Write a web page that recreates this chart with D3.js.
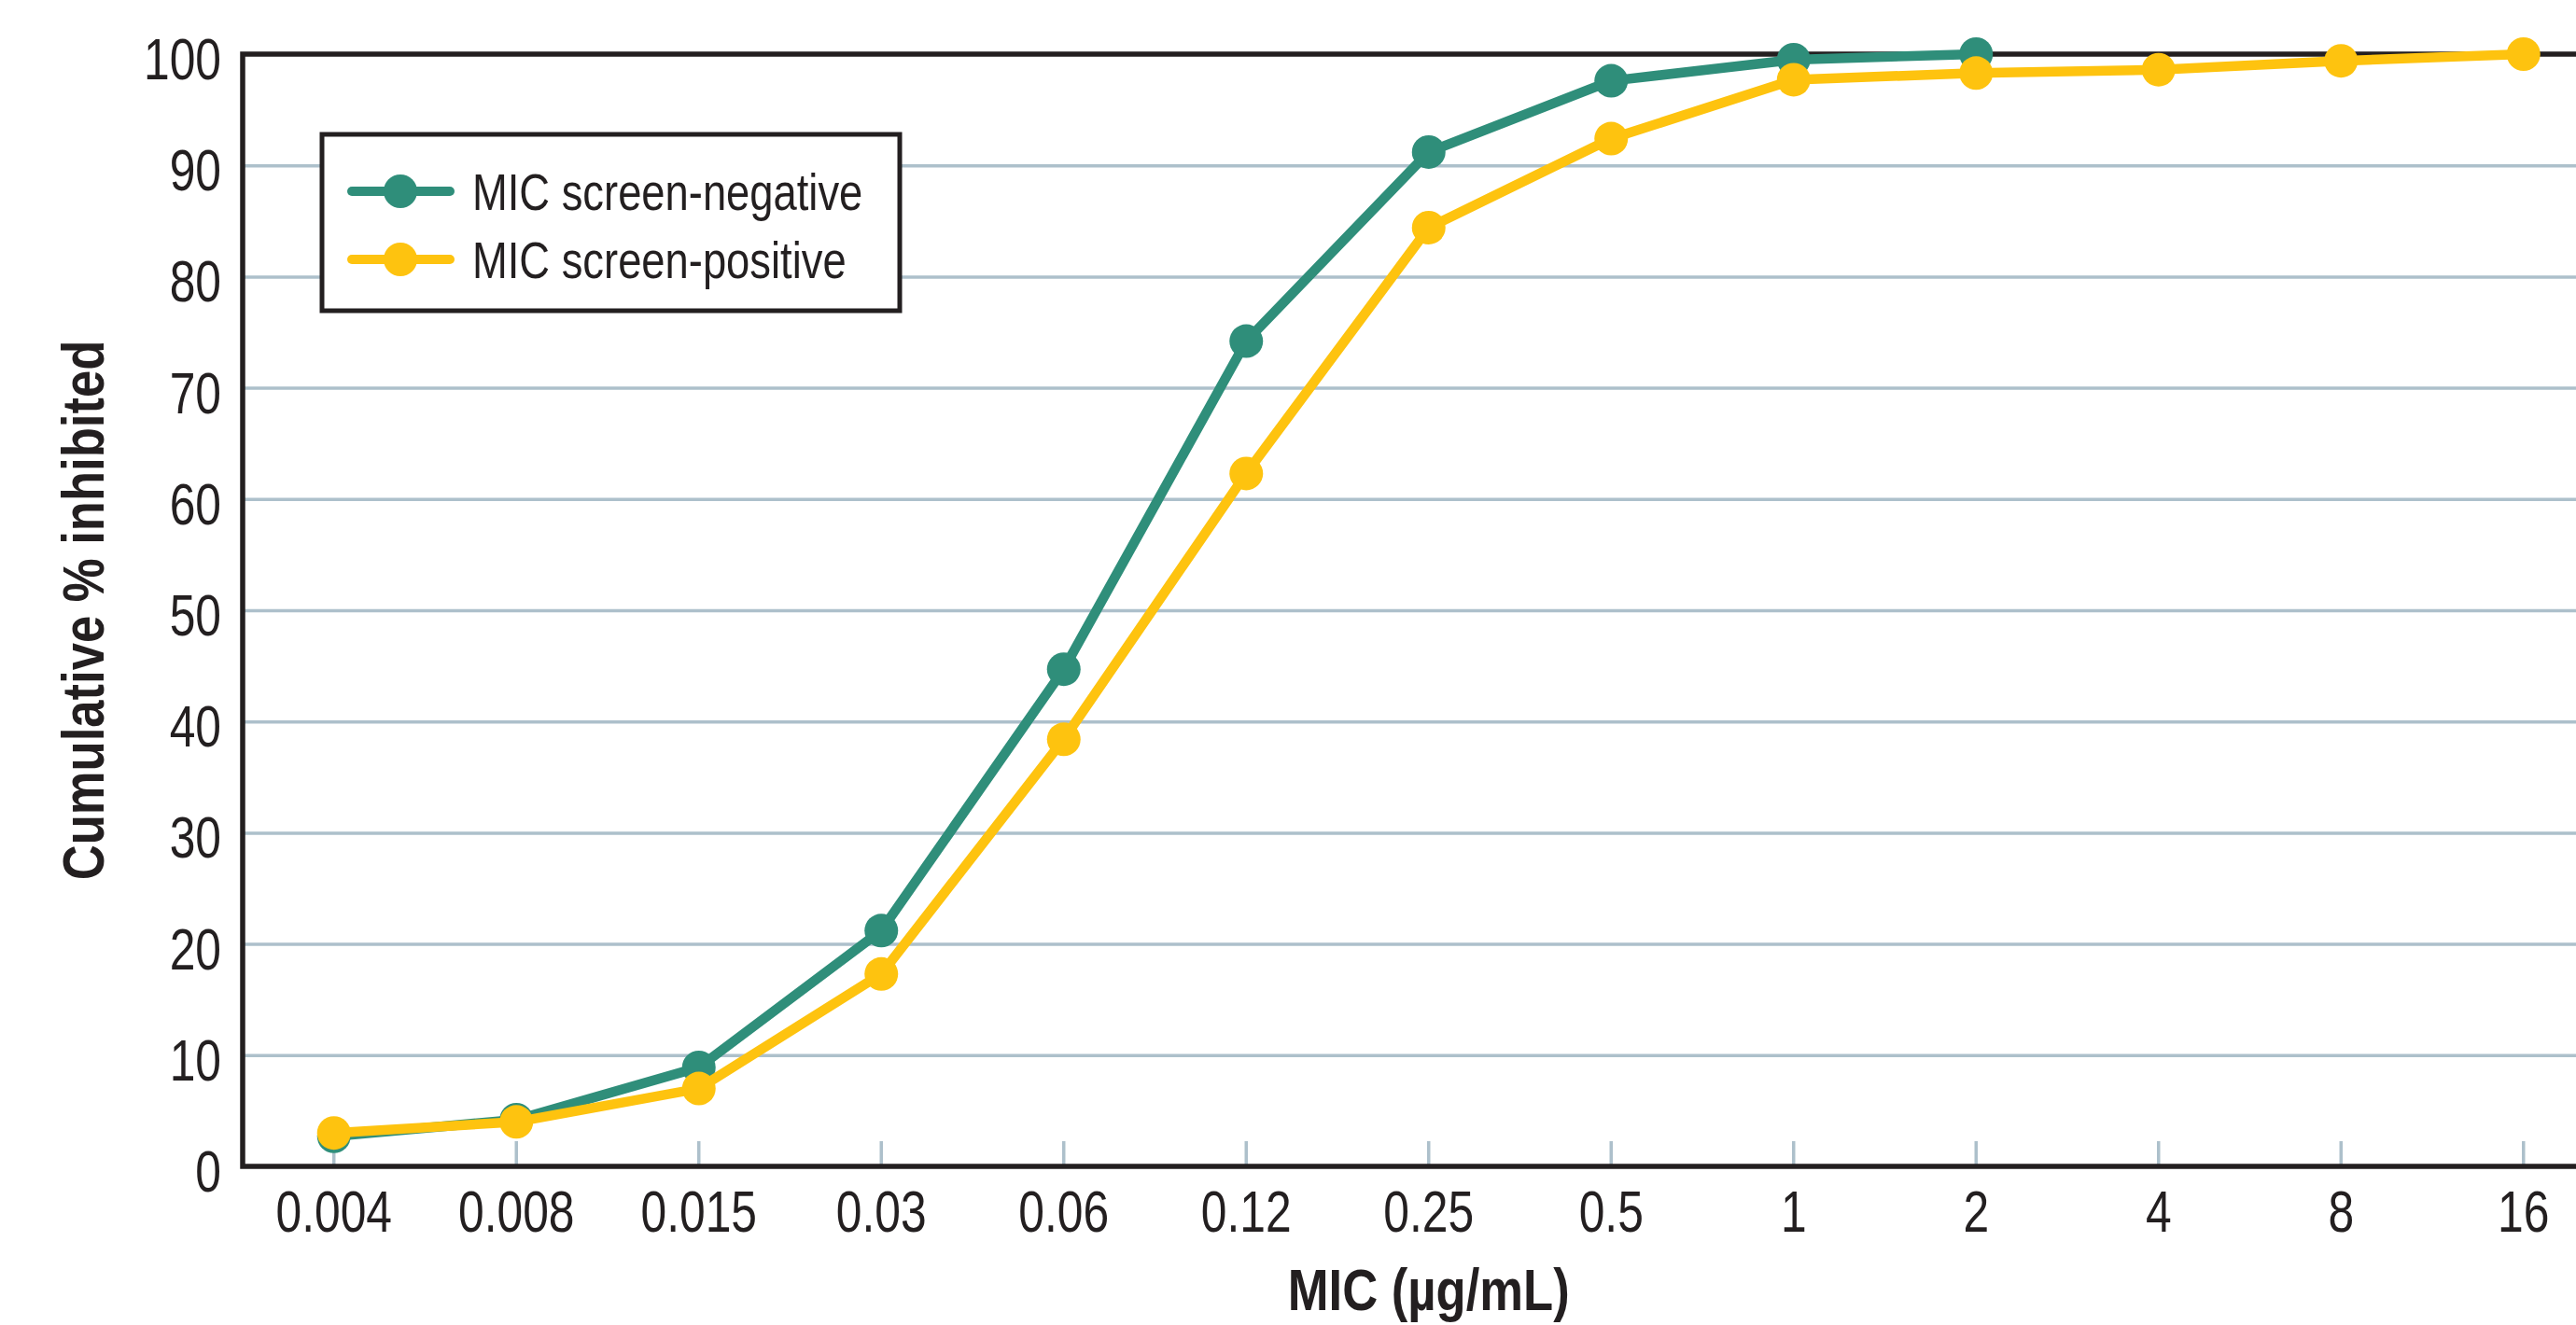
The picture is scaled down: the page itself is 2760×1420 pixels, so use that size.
<!DOCTYPE html>
<html>
<head>
<meta charset="utf-8">
<script src="https://cdn.jsdelivr.net/npm/d3@7"></script>
<style>
  html, body { margin: 0; padding: 0; background: #fff; }
  svg { display: block; }
  text { font-family: "Liberation Sans", Arial, Helvetica, sans-serif; fill: #231f20; }
</style>
</head>
<body>
<svg id="chart" width="2760" height="1420"></svg>
<script>
const categories = ["0.004", "0.008", "0.015", "0.03", "0.06", "0.12", "0.25", "0.5", "1", "2", "4", "8", "16"];
const screenNegative = [2.7, 4.2, 8.9, 21.2, 44.7, 74.2, 91.2, 97.6, 99.5, 100];
const screenPositive = [3.0, 4.0, 7.0, 17.3, 38.4, 62.3, 84.4, 92.4, 97.7, 98.3, 98.6, 99.4, 100];
const yTicks = [0, 10, 20, 30, 40, 50, 60, 70, 80, 90, 100];
const seriesNames = ["MIC screen-negative", "MIC screen-positive"];
const seriesColors = ["#2f8e7a", "#fec30f"];

(function () {
const svg = d3.select("#chart");
const pLeft = 260, pTop = 58, pBottom = 1250, pRight = 2801.5;
const K = 0.79, KB = 0.835; // horizontal condensing of the typeface

// condense text horizontally (reference uses a narrow typeface)
function condense(sel, k) {
  sel.each(function () {
    const t = d3.select(this);
    const xv = +(t.attr("x") || 0);
    t.attr("x", xv / k);
    const tr = t.attr("transform") || "";
    t.attr("transform", (tr ? tr + " " : "") + `scale(${k},1)`);
  });
}

const x = d3.scaleBand().domain(categories).range([pLeft, pRight]).padding(0);
const y = d3.scaleLinear().domain([0, 100]).range([pBottom, pTop]);
const cx = d => x(d) + x.bandwidth() / 2;

// gridlines
const grid = svg.append("g").attr("transform", `translate(${pLeft},0)`)
  .call(d3.axisLeft(y).tickValues(yTicks.filter(v => v > 0 && v < 100)).tickSize(-(pRight - pLeft)).tickFormat(""));
grid.select(".domain").remove();
grid.selectAll("line").attr("stroke", "#adc0cb").attr("stroke-width", 3.5);

// x tick marks (inside) + labels
const xAxis = svg.append("g").attr("transform", `translate(0,${pBottom})`)
  .call(d3.axisBottom(x).tickSizeInner(-27).tickSizeOuter(0));
xAxis.select(".domain").remove();
xAxis.selectAll(".tick line").attr("stroke", "#adc0cb").attr("stroke-width", 3.5);
xAxis.selectAll(".tick text").attr("font-size", 63).attr("font-family", null)
  .attr("y", 70).attr("dy", 0).attr("fill", "#231f20");
condense(xAxis.selectAll(".tick text"), K);

// y tick labels
const yAxis = svg.append("g").attr("transform", `translate(${pLeft},0)`)
  .call(d3.axisLeft(y).tickValues(yTicks).tickSize(0).tickPadding(23));
yAxis.select(".domain").remove();
yAxis.selectAll(".tick text").attr("font-size", 63).attr("font-family", null)
  .attr("dy", "0.42em").attr("fill", "#231f20");
condense(yAxis.selectAll(".tick text"), K);

// plot frame
svg.append("rect").attr("x", pLeft).attr("y", pTop).attr("width", pRight - pLeft).attr("height", pBottom - pTop)
  .attr("fill", "none").attr("stroke", "#231f20").attr("stroke-width", 5.5);

// series
const line = d3.line().x((d, i) => cx(categories[i])).y(d => y(d));
const series = [screenNegative, screenPositive];
series.forEach((vals, s) => {
  const g = svg.append("g");
  g.append("path").datum(vals).attr("d", line).attr("fill", "none")
    .attr("stroke", seriesColors[s]).attr("stroke-width", 10.5).attr("stroke-linejoin", "round");
  g.selectAll("circle").data(vals).join("circle")
    .attr("cx", (d, i) => cx(categories[i])).attr("cy", d => y(d)).attr("r", 18)
    .attr("fill", seriesColors[s]);
});

// legend
const lg = svg.append("g");
lg.append("rect").attr("x", 345).attr("y", 144).attr("width", 619).attr("height", 189)
  .attr("fill", "#fff").attr("stroke", "#231f20").attr("stroke-width", 5);
seriesNames.forEach((name, i) => {
  const yy = 205 + i * 73;
  lg.append("line").attr("x1", 377).attr("x2", 482).attr("y1", yy).attr("y2", yy)
    .attr("stroke", seriesColors[i]).attr("stroke-width", 10).attr("stroke-linecap", "round");
  lg.append("circle").attr("cx", 429).attr("cy", yy).attr("r", 18).attr("fill", seriesColors[i]);
  const t = lg.append("text").attr("x", 506).attr("y", yy + 20).attr("font-size", 56).text(name);
  condense(t, 0.81);
});

// axis titles
const xt = svg.append("text").attr("x", (pLeft + pRight) / 2).attr("y", 1404).attr("text-anchor", "middle")
  .attr("font-size", 63).attr("font-weight", "bold").text("MIC (µg/mL)");
condense(xt, KB);
const yt = svg.append("text").attr("transform", `translate(111,${(pTop + pBottom) / 2}) rotate(-90)`)
  .attr("text-anchor", "middle").attr("font-size", 63).attr("font-weight", "bold").text("Cumulative % inhibited");
condense(yt, KB);
})();
</script>
</body>
</html>
